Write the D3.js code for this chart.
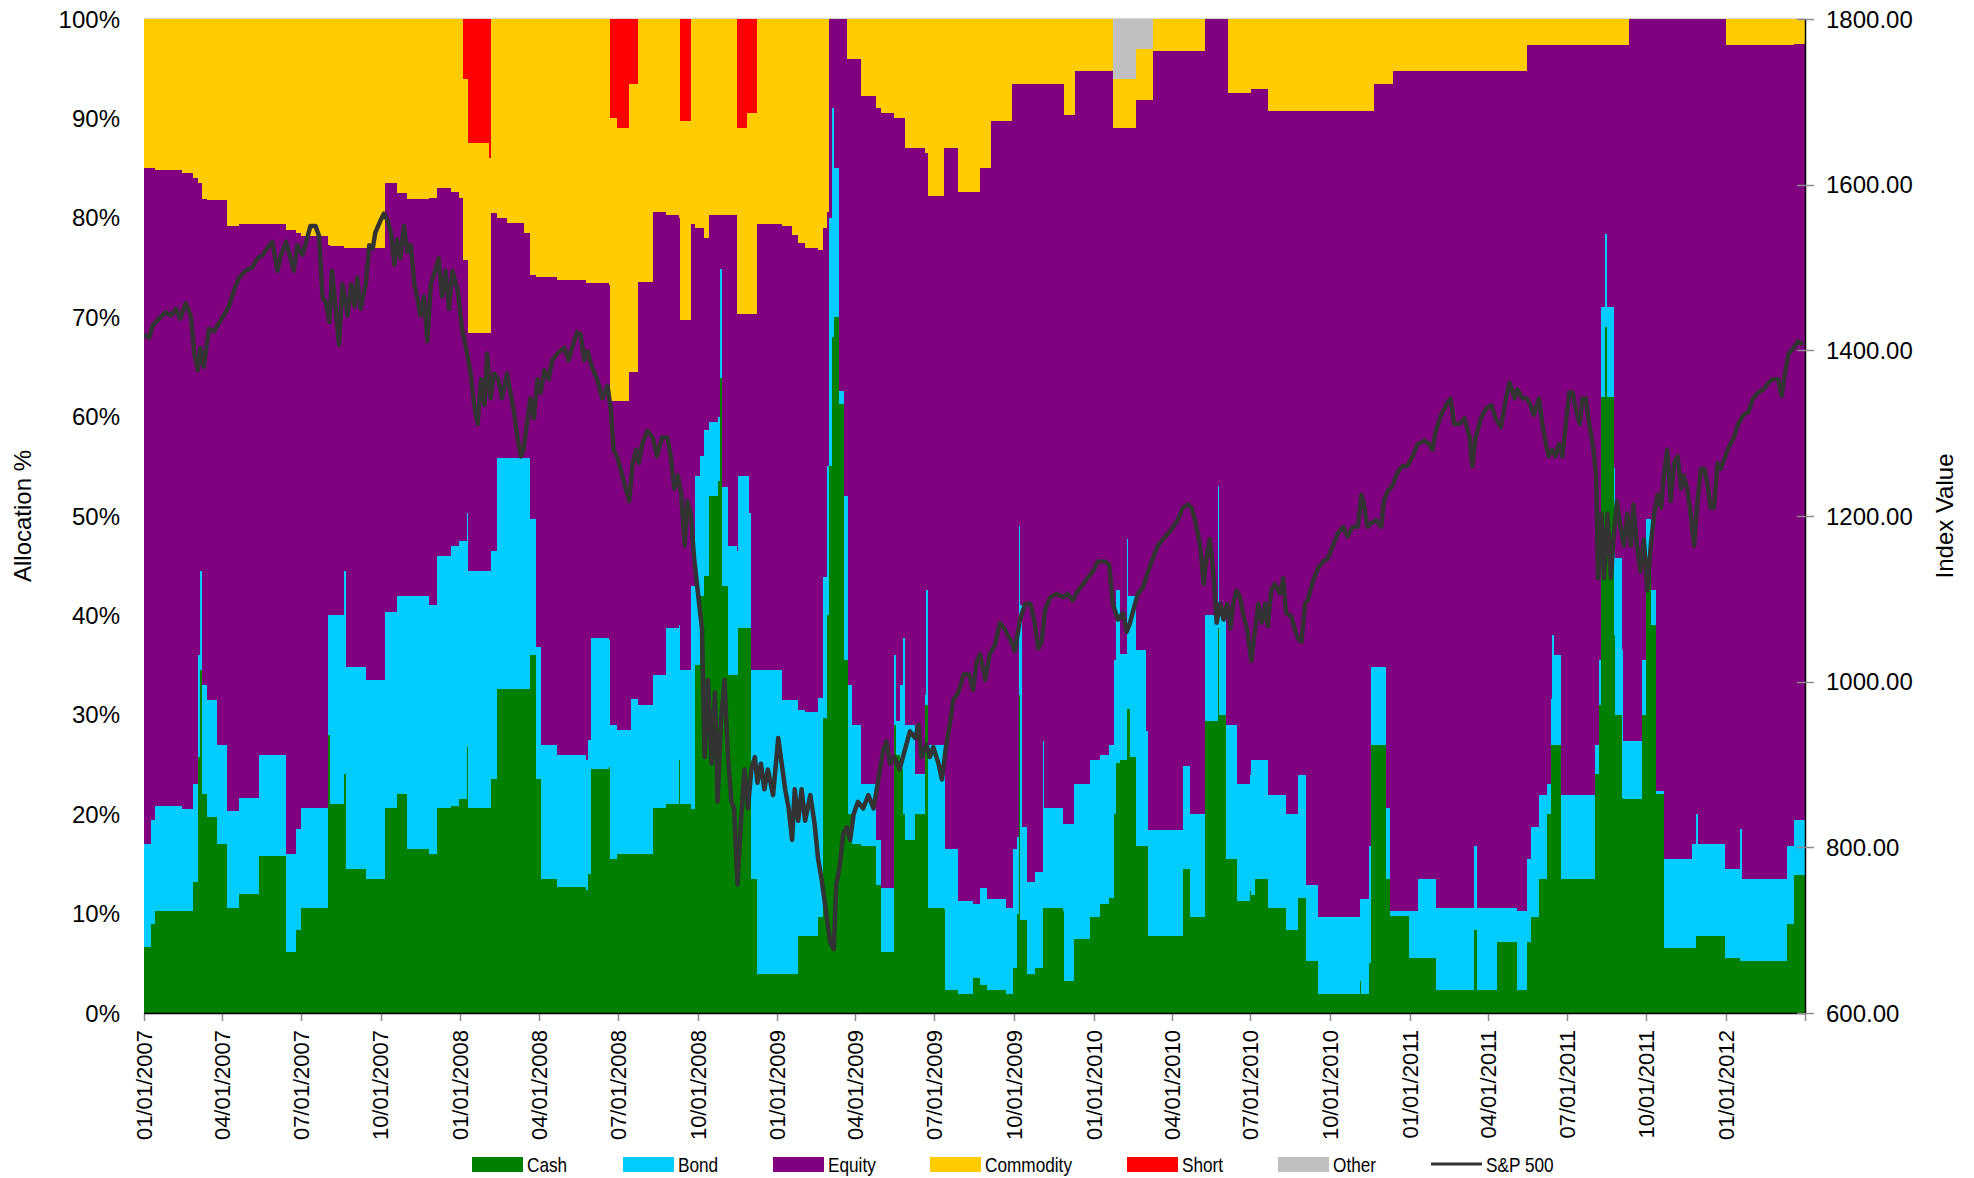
<!DOCTYPE html>
<html><head><meta charset="utf-8">
<script src="https://cdn.jsdelivr.net/npm/d3@7"></script>
<style>
body{margin:0;background:#fff;}
svg text{font-family:"Liberation Sans",Arial,sans-serif;fill:#000;}
</style></head><body>
<svg id="chart" width="1974" height="1178"></svg>
<script>
// ---------- allocation data (percent) ----------
const dates = [
"2007-01-01","2007-01-09","2007-01-14","2007-02-14","2007-02-26","2007-03-04","2007-03-07","2007-03-09","2007-03-15","2007-03-26",
"2007-04-07","2007-04-21","2007-05-14","2007-06-14","2007-06-25","2007-07-01","2007-08-01","2007-08-04","2007-08-20","2007-08-22",
"2007-09-14","2007-10-06","2007-10-20","2007-11-01","2007-11-26","2007-12-05","2007-12-21","2007-12-30",
"2008-01-04","2008-01-09","2008-01-10","2008-02-03","2008-02-05","2008-02-12","2008-02-24","2008-03-14","2008-03-22","2008-03-28",
"2008-04-03","2008-04-22","2008-05-25","2008-05-27","2008-05-31","2008-06-21","2008-06-22","2008-06-30","2008-07-14","2008-07-16",
"2008-07-24","2008-08-10","2008-08-25","2008-09-09","2008-09-11","2008-09-23","2008-09-28","2008-10-04","2008-10-08","2008-10-14",
"2008-10-25","2008-10-27","2008-10-29","2008-11-05","2008-11-15","2008-11-16","2008-11-27","2008-11-29","2008-12-01","2008-12-08",
"2008-12-09",
"2009-01-06","2009-01-18","2009-01-25","2009-02-02","2009-02-17","2009-02-23","2009-02-27","2009-03-02","2009-03-05","2009-03-07",
"2009-03-13","2009-03-19","2009-03-22","2009-03-24","2009-03-28","2009-04-08","2009-04-25","2009-05-01","2009-05-16","2009-05-18",
"2009-05-22","2009-05-26","2009-05-28","2009-06-09","2009-06-20","2009-06-22","2009-06-24","2009-07-12","2009-07-14","2009-07-29",
"2009-08-15","2009-08-23","2009-08-31","2009-09-05","2009-09-22","2009-09-29","2009-09-30","2009-10-05","2009-10-07","2009-10-08",
"2009-10-10","2009-10-16","2009-10-25","2009-11-04","2009-11-05","2009-11-27","2009-11-28","2009-12-09","2009-12-10","2009-12-28",
"2010-01-08","2010-01-19","2010-01-23","2010-01-25","2010-01-27","2010-01-31","2010-02-09","2010-02-10","2010-02-12","2010-02-19",
"2010-03-03","2010-03-05","2010-03-10","2010-04-14","2010-04-22","2010-05-09","2010-05-10","2010-05-24","2010-05-26","2010-06-03",
"2010-06-05","2010-06-15","2010-06-30","2010-07-02","2010-07-06","2010-07-21","2010-08-11","2010-08-25","2010-09-03","2010-09-17",
"2010-11-04","2010-11-06","2010-11-15","2010-11-17","2010-11-20","2010-12-04","2010-12-09","2010-12-13","2010-12-31",
"2011-01-10","2011-01-31","2011-03-16","2011-03-20","2011-04-12","2011-05-05","2011-05-16","2011-05-21","2011-05-30","2011-06-08",
"2011-06-13","2011-06-14","2011-06-16","2011-06-24","2011-08-03","2011-08-07","2011-08-10","2011-08-14","2011-08-17","2011-08-25",
"2011-08-26","2011-09-03","2011-09-04","2011-09-11","2011-09-26","2011-09-30","2011-10-06","2011-10-12","2011-10-21","2011-11-23",
"2011-11-27","2011-11-29","2011-12-31",
"2012-01-01","2012-01-17","2012-01-19","2012-03-11","2012-03-19","2012-04-01"
];
const cash = [
6.6,9,10.3,10.3,13.2,25.8,34.5,22,19.7,17, 10.6,12,15.8,6.1,8.4,10.6,28,21,24,14.5, 13.5,20.6,22,16.5,16,20.6,20.8,21.5,
21.5,26.8,20.6,20.6,23.5,32.6,32.6,32.6,36,23.5, 13.5,12.7,12.4,14,24.5,24.7,15.5,16,16,16, 16,20.6,21,25.5,21,20.5,35,42,44,52, 53.5,63.9,43,34,34,38.7,38.7,38.7,13.5,3.9, 3.9,
3.9,3.9,7.7,7.7,9.7,29.7,40,55,68,70, 61.3,35.5,35.5,20,17,16.8,12.9,6.1,29,26, 24.5,20,17.4,20,31,31,10.6,10.5,2.3,1.9, 3.5,2.8,2.3,2.3,1.9,1.9,4.5,10,32,9.4, 9.4,3.9,4.5,10.6,10.6,10.3,3.2,7.4,7.4,9.7,
11,11.6,11.6,20,25.2,25.5,30.6,30.6,25.8,16.8, 16.8,7.7,7.7,14.5,9.7,9.7,29.4,38.7,30,15.5, 15.5,11.3,12.3,11.9,13.5,10.6,8.4,11.6,5.2,1.9, 3.2,1.9,5,27,27,13.5,9.8,9.8,5.5,
5.5,2.3,8.4,2.3,7.1,2.3,7.1,9.7,13.5,20, 27,27,27,13.5,24,31,62,69,62,38, 30,21.6,21.5,21.5,30,45.8,39,22,6.5,6.5, 7.7,7.7,5.5,
5.5,5.2,5.2,9,13.9,13.9
];
const bond = [
10.4,10.4,10.5,10.2,9.8,10.2,10,11,11.8,10, 9.7,9.6,10.2,9.9,10.1,10,12,19,20.5,20.3, 20,19.7,20,25.5,25,25.4,26.2,26,
26,23.5,23.9,23.9,23,23.2,23.2,23.2,13.7,13.3, 13.5,13.3,13.1,13.5,13.2,12.8,13.5,12.5,12.5,15.6, 15,13.4,17.7,13.5,13.5,22.5,19,14,14.7,7.5, 6.5,10.9,9.9,13,12.5,15.3,15.3,11.6,21,30.6, 30.6,
27.6,27.6,22.8,22.6,22,14.2,15,25,23,15, 1.3,16.5,16.5,13,12,6.2,4.5,6.5,7,3.4, 8.5,17.7,11.6,4,1,11.6,16.4,15.5,14.2,9.4, 7.5,9.8,9.2,9.2,8.7,8.7,12,7.7,17,31.6, 9.3,9.3,9.7,16.8,10,8.7,15.8,15.6,15.6,15.8,
15,15.4,15.4,15.5,17.4,10.6,17.1,11.4,16.2,19.7, 11.6,10.7,10.7,10.3,10.3,10.3,10.6,14.3,10,13.5, 13.5,11.7,11.6,13.6,12,11.3,11.6,12.3,7.7,7.8, 8.3,9.6,11.8,7.8,7.8,7.1,0.5,0.5,4.8,
8,8.3,8.4,8.3,3.5,8,8.4,9,8.4,3, 4.6,11,9,8.4,3,4.5,9,9.4,9,16.8, 15.8,14.9,5.9,5.9,5.5,3.9,3.6,0.3,9,10.5, 12.3,9.3,9,
9,13.3,8.3,7.8,5.5,5.5
];
const equity = [
68,65.6,64,64,61,47.5,39,48.9,50.3,54.8, 58.9,57.8,53.4,62.8,60,57.6,37.3,37.2,32.5,42.2, 43.5,43.2,40.5,39.9,41,37,35.6,34.5,
28.3,25.5,23.9,23.9,34,24.2,23.7,22.7,24.5,37.2, 47,47.7,47.9,45.9,35.7,35.7,32.6,33.1,36,32.9, 42.5,46.6,41.6,41,35.2,36.4,25,23,19.3,20.8, 20.3,5.5,27.4,33.3,23.8,16.3,16.3,20,35.8,35.8, 44.9,
47.7,46.8,47,46.7,45.1,35.1,25.6,20,9,15, 37.4,48,44,63,67,69.3,73.6,77.9,54,60.6, 57,52.3,58,63,54.5,43.9,55.2,61,70.5,71.3, 71.6,72.4,73.5,78.2,79.1,82.9,77,75.8,44.5,52.5, 74.8,80.3,79.3,66.1,72.9,74.5,71.3,67.3,71.8,69.3,
68.8,67.8,62,53.5,46.4,52.9,41.3,47,47,55.4, 63.5,73.5,78.4,72,76.8,80,60,47,60,71, 63.6,69.6,68.7,67.5,67.5,68.8,70.7,66.8,77.8,81, 79.2,79.2,73.9,55.9,58.7,72.9,83.2,84.5,84.5,
81.3,84.2,78,84.2,84.2,84.5,81.9,78.7,75.5,74.4, 65.8,59.4,61.4,75.5,70.4,61.9,26.4,19,26.4,42.6, 51.6,60.9,70,72.6,64.5,50.3,57.4,77.7,84.5,83, 80,83,85.5,
82.9,78.9,83.9,80.6,78.1,78.1
];
const commodity = [
15,15,15.2,15.5,16,16.5,16.5,18.1,18.2,18.2, 20.8,20.6,20.6,21.2,21.5,21.8,22.7,22.8,23,23, 23,16.5,17.5,18.1,18,17,17.4,18,
18.2,18.2,19.1,17.6,19.5,20,20.5,21.5,25.8,26, 26,26.3,26.6,26.6,26.6,26.8,28.4,27.4,29,29, 26.5,19.4,19.7,20,20,20.6,21,21,22,19.7, 19.7,19.7,19.7,19.7,18.7,18.7,20.2,20.2,20.2,20.2, 20.6,
20.8,21.7,22.5,23,23.2,21,19.4,0,0,0, 0,0,4,4,4,7.7,9,9.5,10,10, 10,10,13,13,13.5,13.5,17.8,13,13,17.4, 17.4,15,15,10.3,10.3,6.5,6.5,6.5,6.5,6.5, 6.5,6.5,6.5,6.5,6.5,6.5,9.7,9.7,5.2,5.2,
5.2,5.2,5,5,5,5,5,5,5,5.1, 5.1,5.1,3.2,3.2,3.2,0,0,0,0,0, 7.4,7.4,7.4,7,7,9.3,9.3,9.3,9.3,9.3, 9.3,9.3,9.3,9.3,6.5,6.5,6.5,5.2,5.2,
5.2,5.2,5.2,5.2,5.2,5.2,2.6,2.6,2.6,2.6, 2.6,2.6,2.6,2.6,2.6,2.6,2.6,2.6,2.6,2.6, 2.6,2.6,2.6,0,0,0,0,0,0,0, 0,0,0,
2.6,2.6,2.6,2.6,2.6,2.6
];
const shortPos = [
0,0,0,0,0,0,0,0,0,0, 0,0,0,0,0,0,0,0,0,0, 0,0,0,0,0,0,0,0,
6,6,12.5,14,0,0,0,0,0,0, 0,0,0,0,0,0,10,11,6.5,6.5, 0,0,0,0,10.3,0,0,0,0,0, 0,0,0,0,11,11,9.5,9.5,9.5,9.5, 0,
0,0,0,0,0,0,0,0,0,0, 0,0,0,0,0,0,0,0,0,0, 0,0,0,0,0,0,0,0,0,0, 0,0,0,0,0,0,0,0,0,0, 0,0,0,0,0,0,0,0,0,0,
0,0,0,0,0,0,0,0,0,0, 0,0,0,0,0,0,0,0,0,0, 0,0,0,0,0,0,0,0,0,0, 0,0,0,0,0,0,0,0,0,
0,0,0,0,0,0,0,0,0,0, 0,0,0,0,0,0,0,0,0,0, 0,0,0,0,0,0,0,0,0,0, 0,0,0,
0,0,0,0,0,0
];
const other = [
0,0,0,0,0,0,0,0,0,0, 0,0,0,0,0,0,0,0,0,0, 0,0,0,0,0,0,0,0,
0,0,0,0,0,0,0,0,0,0, 0,0,0,0,0,0,0,0,0,0, 0,0,0,0,0,0,0,0,0,0, 0,0,0,0,0,0,0,0,0,0, 0,
0,0,0,0,0,0,0,0,0,0, 0,0,0,0,0,0,0,0,0,0, 0,0,0,0,0,0,0,0,0,0, 0,0,0,0,0,0,0,0,0,0, 0,0,0,0,0,0,0,0,0,0,
0,0,6,6,6,6,6,6,6,3, 3,3,0,0,0,0,0,0,0,0, 0,0,0,0,0,0,0,0,0,0, 0,0,0,0,0,0,0,0,0,
0,0,0,0,0,0,0,0,0,0, 0,0,0,0,0,0,0,0,0,0, 0,0,0,0,0,0,0,0,0,0, 0,0,0,
0,0,0,0,0,0
];

// ---------- S&P 500 ----------
const spDates = [
"2007-01-01","2007-01-07","2007-01-11","2007-01-18","2007-01-26","2007-02-01","2007-02-07","2007-02-12","2007-02-18","2007-02-24",
"2007-02-28","2007-03-04","2007-03-07","2007-03-11","2007-03-17","2007-03-23","2007-03-29","2007-04-03","2007-04-09","2007-04-15",
"2007-04-21","2007-04-28","2007-05-06","2007-05-12","2007-05-18","2007-05-23","2007-05-29","2007-06-04","2007-06-08","2007-06-14",
"2007-06-17","2007-06-23","2007-06-27","2007-07-03","2007-07-09","2007-07-12","2007-07-18","2007-07-22","2007-07-26","2007-07-30",
"2007-08-03","2007-08-06","2007-08-10","2007-08-14","2007-08-18","2007-08-24","2007-08-28","2007-09-01","2007-09-04","2007-09-08",
"2007-09-14","2007-09-18","2007-09-22","2007-09-25","2007-10-01","2007-10-05","2007-10-09","2007-10-13","2007-10-17","2007-10-20",
"2007-10-24","2007-10-28","2007-11-01","2007-11-05","2007-11-09","2007-11-12","2007-11-16","2007-11-20","2007-11-24","2007-11-28",
"2007-12-03","2007-12-07","2007-12-11","2007-12-15","2007-12-19","2007-12-23","2007-12-29",
"2008-01-03","2008-01-09","2008-01-13","2008-01-17","2008-01-21","2008-01-25","2008-01-29","2008-02-01","2008-02-05","2008-02-09",
"2008-02-14","2008-02-18","2008-02-24","2008-02-28","2008-03-03","2008-03-07","2008-03-11","2008-03-14","2008-03-18","2008-03-22",
"2008-03-26","2008-03-30","2008-04-03","2008-04-07","2008-04-12","2008-04-16","2008-04-22","2008-04-30","2008-05-05","2008-05-09",
"2008-05-15","2008-05-19","2008-05-23","2008-05-27","2008-06-01","2008-06-07","2008-06-13","2008-06-19","2008-06-23","2008-06-26",
"2008-06-30","2008-07-04","2008-07-08","2008-07-14","2008-07-18","2008-07-22","2008-07-25","2008-07-29","2008-08-04","2008-08-10",
"2008-08-15","2008-08-21","2008-08-27","2008-08-31","2008-09-04","2008-09-08","2008-09-12","2008-09-16","2008-09-19","2008-09-23",
"2008-09-27","2008-10-01","2008-10-06","2008-10-09","2008-10-13","2008-10-17","2008-10-21","2008-10-24","2008-10-28","2008-11-01",
"2008-11-05","2008-11-09","2008-11-12","2008-11-16","2008-11-20","2008-11-24","2008-11-28","2008-12-02","2008-12-06","2008-12-09",
"2008-12-13","2008-12-17","2008-12-21","2008-12-27",
"2009-01-02","2009-01-06","2009-01-10","2009-01-14","2009-01-18","2009-01-21","2009-01-25","2009-01-29","2009-02-02","2009-02-08",
"2009-02-13","2009-02-17","2009-02-21","2009-02-27","2009-03-03","2009-03-07","2009-03-10","2009-03-14","2009-03-18","2009-03-22",
"2009-03-26","2009-03-30","2009-04-04","2009-04-10","2009-04-16","2009-04-22","2009-04-27","2009-05-03","2009-05-07","2009-05-11",
"2009-05-16","2009-05-22","2009-05-28","2009-06-03","2009-06-09","2009-06-13","2009-06-16","2009-06-22","2009-06-26","2009-06-30",
"2009-07-06","2009-07-10","2009-07-14","2009-07-20","2009-07-23","2009-07-29","2009-08-04","2009-08-10","2009-08-15","2009-08-19",
"2009-08-23","2009-08-29","2009-09-03","2009-09-09","2009-09-15","2009-09-20","2009-09-24","2009-09-28","2009-10-02","2009-10-08",
"2009-10-14","2009-10-20","2009-10-25","2009-10-29","2009-11-02","2009-11-06","2009-11-12","2009-11-19","2009-11-27","2009-12-02",
"2009-12-08","2009-12-14","2009-12-20","2009-12-25","2009-12-31",
"2010-01-06","2010-01-14","2010-01-19","2010-01-23","2010-01-29","2010-02-04","2010-02-08","2010-02-12","2010-02-16","2010-02-21",
"2010-02-27","2010-03-05","2010-03-10","2010-03-16","2010-03-22","2010-03-28","2010-04-03","2010-04-08","2010-04-14","2010-04-20",
"2010-04-24","2010-04-28","2010-05-04","2010-05-08","2010-05-11","2010-05-15","2010-05-19","2010-05-23","2010-05-27","2010-05-31",
"2010-06-04","2010-06-08","2010-06-11","2010-06-15","2010-06-19","2010-06-23","2010-06-27","2010-07-01","2010-07-02","2010-07-06",
"2010-07-10","2010-07-14","2010-07-18","2010-07-21","2010-07-25","2010-07-29","2010-08-04","2010-08-08","2010-08-11","2010-08-17",
"2010-08-21","2010-08-25","2010-08-29","2010-09-02","2010-09-05","2010-09-11","2010-09-17","2010-09-23","2010-09-28","2010-10-04",
"2010-10-10","2010-10-16","2010-10-21","2010-10-27","2010-11-02","2010-11-06","2010-11-09","2010-11-13","2010-11-17","2010-11-23",
"2010-11-29","2010-12-02","2010-12-06","2010-12-12","2010-12-18","2010-12-23","2010-12-29",
"2011-01-04","2011-01-10","2011-01-18","2011-01-23","2011-01-27","2011-01-31","2011-02-06","2011-02-12","2011-02-17","2011-02-21",
"2011-02-27","2011-03-05","2011-03-11","2011-03-14","2011-03-18","2011-03-24","2011-03-30","2011-04-05","2011-04-10","2011-04-16",
"2011-04-22","2011-04-26","2011-05-02","2011-05-05","2011-05-11","2011-05-16","2011-05-20","2011-05-24","2011-05-30","2011-06-03",
"2011-06-07","2011-06-10","2011-06-14","2011-06-18","2011-06-22","2011-06-26","2011-06-30","2011-07-04","2011-07-08","2011-07-12",
"2011-07-16","2011-07-19","2011-07-23","2011-07-27","2011-07-31","2011-08-04","2011-08-06","2011-08-10","2011-08-13","2011-08-17",
"2011-08-21","2011-08-24","2011-08-28","2011-09-01","2011-09-05","2011-09-09","2011-09-13","2011-09-16","2011-09-20","2011-09-24",
"2011-09-28","2011-10-02","2011-10-06","2011-10-10","2011-10-14","2011-10-18","2011-10-21","2011-10-25","2011-10-29","2011-11-02",
"2011-11-06","2011-11-10","2011-11-13","2011-11-17","2011-11-21","2011-11-25","2011-11-29","2011-12-03","2011-12-07","2011-12-10",
"2011-12-14","2011-12-18","2011-12-22","2011-12-26","2011-12-31",
"2012-01-04","2012-01-10","2012-01-15","2012-01-21","2012-01-27","2012-02-01","2012-02-07","2012-02-13","2012-02-19","2012-02-24",
"2012-03-01","2012-03-05","2012-03-09","2012-03-13","2012-03-19","2012-03-24","2012-03-30"
];
const spValues = [
1419,1415,1430,1438,1446,1442,1450,1438,1457,1442, 1396,1376,1403,1380,1426,1423,1434,1442,1453,1473,
1488,1496,1500,1511,1515,1523,1531,1496,1515,1531, 1519,1496,1527,1515,1538,1550,1550,1538,1465,1457,
1434,1496,1453,1407,1480,1442,1480,1453,1488,1450, 1480,1527,1523,1542,1557,1565,1557,1542,1503,1534,
1511,1550,1519,1527,1480,1465,1442,1465,1411,1480, 1496,1511,1465,1496,1450,1496,1473,
1426,1396,1372,1334,1311,1365,1334,1396,1342,1372, 1365,1342,1372,1349,1326,1295,1272,1280,1311,1342,
1318,1365,1349,1376,1365,1388,1396,1403,1388,1403, 1422,1419,1388,1399,1380,1365,1342,1357,1326,1280,
1272,1257,1241,1218,1264,1280,1264,1287,1303,1295, 1272,1295,1295,1272,1233,1249,1226,1164,1218,1203,
1148,1110,1064,909,1002,901,987,855,955,1002, 909,855,847,755,832,894,847,894,909,878,
901,870,894,863,
932,901,870,847,809,870,832,870,832,863, 828,786,762,716,685,677,755,778,816,824,
809,840,855,847,863,847,878,917,928,901, 909,894,917,940,932,948,909,924,909,921,
901,882,917,955,978,987,1009,1009,990,1025, 1033,1002,1033,1044,1071,1064,1056,1048,1037,1075,
1094,1094,1071,1040,1048,1087,1102,1106,1102,1106, 1098,1110,1118,1125,1133,
1145,1145,1141,1094,1075,1083,1060,1071,1087,1106, 1114,1133,1148,1164,1172,1179,1187,1195,1210,1214,
1210,1195,1164,1118,1148,1172,1133,1071,1094,1075, 1094,1064,1094,1110,1102,1079,1064,1033,1025,1060,
1094,1071,1094,1067,1110,1118,1106,1125,1083,1079, 1064,1052,1048,1094,1098,1121,1137,1145,1148,1164,
1179,1187,1175,1187,1187,1226,1214,1187,1191,1195, 1187,1218,1229,1237,1253,1260,1260,
1272,1287,1291,1287,1280,1303,1322,1334,1342,1311, 1311,1318,1295,1260,1295,1318,1330,1334,1318,1307,
1342,1361,1342,1353,1342,1342,1334,1322,1342,1311, 1287,1272,1280,1272,1287,1272,1311,1349,1349,1326,
1311,1342,1342,1311,1287,1249,1125,1203,1125,1203, 1125,1172,1218,1187,1164,1203,1164,1214,1164,1133,
1172,1110,1164,1203,1226,1210,1249,1280,1218,1264, 1272,1233,1249,1233,1203,1164,1218,1257,1257,1241,
1210,1210,1264,1257,1272,
1283,1295,1311,1322,1326,1342,1349,1353,1361,1365, 1365,1345,1372,1396,1403,1411,1407
];

// ---------- axes / legend labels ----------
const seriesNames = ["Cash","Bond","Equity","Commodity","Short","Other"];
const seriesColors = ["#008000","#00CCFF","#800080","#FFCC00","#FF0000","#C0C0C0"];
const lineName = "S&P 500";
const lineColor = "#333333";
const leftTicks = [0,10,20,30,40,50,60,70,80,90,100];
const rightTicks = [600,800,1000,1200,1400,1600,1800];
const yTitleLeft = "Allocation %";
const yTitleRight = "Index Value";

// ---------- checks ----------
const series = [cash,bond,equity,commodity,shortPos,other];
series.forEach((s,k)=>{ if(s.length!==dates.length) throw new Error("len mismatch "+seriesNames[k]+" "+s.length+" vs "+dates.length); });
if(spDates.length!==spValues.length) throw new Error("sp len "+spDates.length+" "+spValues.length);
const bad=[];
dates.forEach((d,i)=>{ const s=series.reduce((a,arr)=>a+arr[i],0); if(Math.abs(s-100)>0.3) bad.push(d+":"+s.toFixed(1)); });
if(bad.length) throw new Error("sum mismatch "+bad.join(" "));

// ---------- drawing ----------
const svg = d3.select("#chart");
const L=144, R=1805, T=19, B=1013;
const parse = d3.timeParse("%Y-%m-%d");
const x = d3.scaleTime().domain([parse("2007-01-01"), parse("2012-04-01")]).range([L,R]);
const y = d3.scaleLinear().domain([0,100]).range([B,T]);
const y2 = d3.scaleLinear().domain([600,1800]).range([B,T]);

const rows = dates.map((d,i)=>{ const o={date:parse(d)}; seriesNames.forEach((n,k)=>o[n]=series[k][i]); return o; });
const stacked = d3.stack().keys(seriesNames)(rows);
const area = d3.area().curve(d3.curveStepAfter)
  .x(d=>x(d.data.date)).y0(d=>y(d[0])).y1(d=>y(Math.min(100,d[1])));

svg.append("defs").append("clipPath").attr("id","plot").append("rect")
  .attr("x",L).attr("y",T).attr("width",R-L).attr("height",B-T);

const g = svg.append("g").attr("clip-path","url(#plot)");
g.selectAll("path.area").data(stacked).join("path").attr("class","area")
  .attr("d",area).attr("fill",(d,i)=>seriesColors[i]).attr("shape-rendering","crispEdges");

// top border
svg.append("line").attr("x1",L).attr("x2",R).attr("y1",T-0.5).attr("y2",T-0.5).attr("stroke","#d9d9d9").attr("stroke-width",1);

// S&P line
const spData = spDates.map((d,i)=>({date:parse(d), v:spValues[i]}));
g.append("path").datum(spData)
  .attr("d", d3.line().x(d=>x(d.date)).y(d=>y2(d.v)))
  .attr("fill","none").attr("stroke",lineColor).attr("stroke-width",4.5).attr("stroke-linejoin","round");

// bottom axis
const xTicks = d3.timeMonth.every(3).range(parse("2007-01-01"), d3.timeDay.offset(parse("2012-04-01"),1));
svg.append("g").selectAll("line").data(xTicks).join("line")
  .attr("x1",d=>Math.round(x(d))+0.5).attr("x2",d=>Math.round(x(d))+0.5).attr("y1",B).attr("y2",B+8)
  .attr("stroke","#8c8c8c").attr("stroke-width",1.5);
svg.append("line").attr("x1",L).attr("x2",R+1).attr("y1",B+0.5).attr("y2",B+0.5).attr("stroke","#000").attr("stroke-width",1.5);
const fmt = d3.timeFormat("%m/%d/%Y");
svg.append("g").selectAll("text").data(xTicks.slice(0,-1)).join("text")
  .attr("transform",d=>`translate(${x(d)},${1030}) rotate(-90)`)
  .attr("text-anchor","end").attr("dy","0.36em").attr("font-size",22).text(d=>fmt(d));

// right axis
svg.append("line").attr("x1",R+0.5).attr("x2",R+0.5).attr("y1",T).attr("y2",B).attr("stroke","#000").attr("stroke-width",1.5);
svg.append("g").selectAll("line").data(rightTicks).join("line")
  .attr("x1",R-8).attr("x2",R+9).attr("y1",d=>Math.round(y2(d))+0.5).attr("y2",d=>Math.round(y2(d))+0.5)
  .attr("stroke","#8c8c8c").attr("stroke-width",1.5);
svg.append("g").selectAll("text").data(rightTicks).join("text")
  .attr("x",1826).attr("y",d=>y2(d)).attr("dy","0.36em").attr("font-size",24).text(d=>d3.format(".2f")(d));

// left labels
svg.append("g").selectAll("text").data(leftTicks).join("text")
  .attr("x",120).attr("y",d=>y(d)).attr("dy","0.36em").attr("text-anchor","end").attr("font-size",24).text(d=>d+"%");

// titles
svg.append("text").attr("transform",`translate(31,${(T+B)/2}) rotate(-90)`).attr("text-anchor","middle")
  .attr("font-size",24).text(yTitleLeft);
svg.append("text").attr("transform",`translate(1953,${(T+B)/2}) rotate(-90)`).attr("text-anchor","middle")
  .attr("font-size",24).text(yTitleRight);

// legend
const legX = [472,623,773,930,1127,1278,1431];
const legY = 1164;
const lg = svg.append("g");
const legText = (xx,label)=> lg.append("text").attr("transform",`translate(${xx},${legY}) scale(0.82,1)`)
  .attr("dy","0.36em").attr("font-size",21).text(label);
seriesNames.forEach((n,i)=>{
  lg.append("rect").attr("x",legX[i]).attr("y",legY-7).attr("width",51).attr("height",15).attr("fill",seriesColors[i]);
  legText(legX[i]+55, n);
});
lg.append("line").attr("x1",legX[6]).attr("x2",legX[6]+51).attr("y1",legY).attr("y2",legY).attr("stroke",lineColor).attr("stroke-width",3);
legText(legX[6]+55, lineName);
</script></body></html>
